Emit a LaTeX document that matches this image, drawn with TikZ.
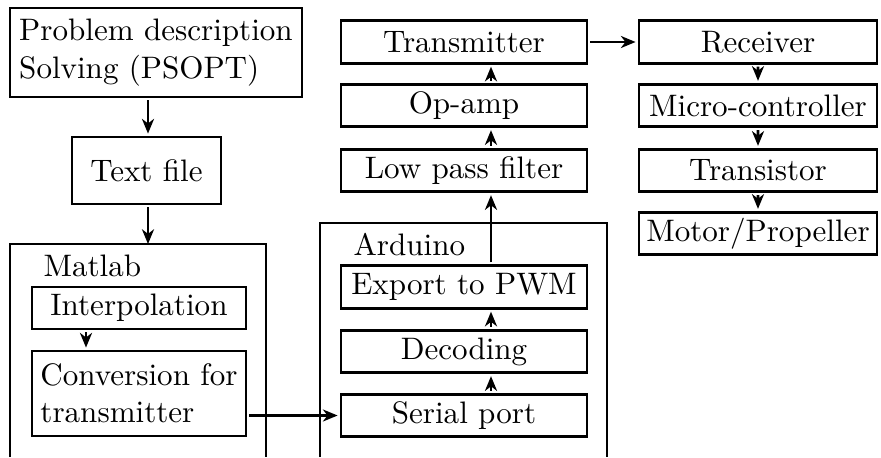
\documentclass[tikz,border=0pt]{standalone}
\usetikzlibrary{arrows.meta}
\begin{document}
\begin{tikzpicture}[x=0.75pt,y=-0.75pt,
  mw/.style={minimum width=#1*0.32189pt},
  mh/.style={minimum height=#1*0.32189pt},
  box/.style={draw, line width=2.2pt, scale=2.33, inner sep=1pt},
  colbox/.style={box, mw=246, mh=42.5},
  rbox/.style={box, mw=238, mh=42.5},
  frame/.style={line width=2.2pt},
  arr/.style={line width=2.2pt, -{Stealth[length=11pt,width=9pt,inset=3.4pt]}},
  lbl/.style={scale=2.33, inner sep=0pt, anchor=west}]
\useasboundingbox (0,0) rectangle (881,457);
% column coordinates
\coordinate (colA) at (148,0);
\coordinate (colB) at (86,0);
\coordinate (colC) at (491,0);
% left column
\node[box, mw=292, mh=89, align=left] (prob) at (156,52.5) {Problem description\\Solving (PSOPT)};
\node[box, mw=149, mh=67] (tf) at (146.5,170.5) {Text file};
\draw[frame] (10,457) -- (10,244) -- (266,244) -- (266,457);
\coordinate (mtop) at (148,244);
\node[lbl] (mlab) at (43,266) {Matlab};
\node[box, mw=214, mh=42] (interp) at (139,308) {Interpolation};
\node[box, mw=214, mh=85, align=left] (conv) at (139,393.5) {Conversion for\\transmitter};
% middle column
\draw[frame] (320,457) -- (320,223) -- (607,223) -- (607,457);
\node[lbl] (alab) at (353,245) {Arduino};
\node[colbox] (exp) at (464,287) {Export to PWM};
\node[colbox] (dec) at (464,351.5) {Decoding};
\node[colbox] (ser) at (464,415.5) {Serial port};
\node[colbox] (lpf) at (464,170.5) {Low pass filter};
\node[colbox] (op) at (464,105.5) {Op-amp};
\node[colbox] (tx) at (464,42) {Transmitter};
% right column
\node[rbox] (rx) at (758,42) {Receiver};
\node[rbox] (mc) at (758,105.5) {Micro-controller};
\node[rbox] (trs) at (758,170.5) {Transistor};
\node[rbox] (mot) at (758,233.5) {Motor/Propeller};
% connectors
\draw[arr] (prob.south -| colA) -- (tf.north -| colA);
\draw[arr] (tf.south -| colA) -- (mtop);
\draw[arr] (interp.south -| colB) -- (conv.north -| colB);
\draw[arr] (conv.east |- ser) -- (ser.west);
\draw[arr] (ser.north -| colC) -- (dec.south -| colC);
\draw[arr] (dec.north -| colC) -- (exp.south -| colC);
\draw[arr] (exp.north -| colC) -- (lpf.south -| colC);
\draw[arr] (lpf.north -| colC) -- (op.south -| colC);
\draw[arr] (op.north -| colC) -- (tx.south -| colC);
\draw[arr] (tx.east) -- (rx.west);
\draw[arr] (rx) -- (mc);
\draw[arr] (mc) -- (trs);
\draw[arr] (trs) -- (mot);
\end{tikzpicture}
\end{document}
